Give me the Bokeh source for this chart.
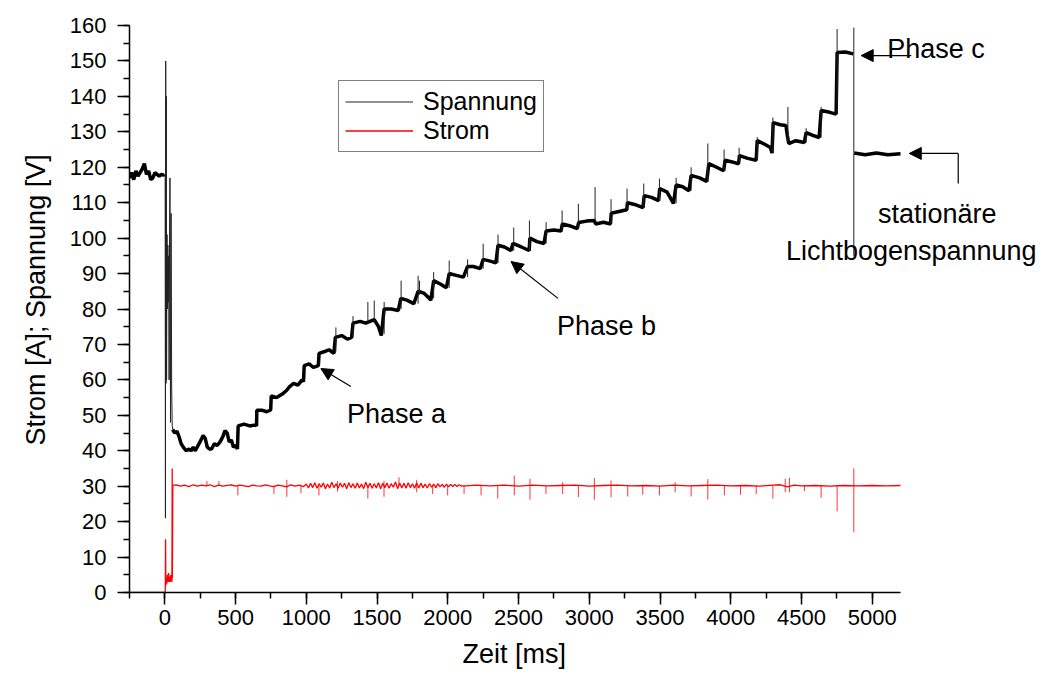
from bokeh.plotting import figure
from bokeh.models import (Range1d, SingleIntervalTicker, Legend, LegendItem, Label,
                          Arrow, NormalHead, Title)
from bokeh.embed import file_html
from bokeh.resources import INLINE

nan = float("nan")
FONT = "Liberation Sans"

# ---------------- data ----------------
x_lo, x_hi = -250, 5200
y_lo, y_hi = 0, 160

# Spannung: noisy band (plateaus), NaN = gap
volt_x = [-250, -235, -220, -205, -190, -175, -160, -145, -130, -115, -100, -85, -70, -55, -40, -25, -10, -3,
          nan,
          55, 70, 85, 100, 115, 130, 150, 170, 185, 200, 215, 235, 255, 270, 285, 300, 315, 330, 350, 370,
          390, 410, 425, 440, 455, 470, 485, 500, 513, 518, 560, 600, 640, 648, 650, 690, 720, 748, 752,
          790, 830, 860, 880, 910, 940, 970, 980, 985, 1020, 1050, 1085, 1090, 1130, 1160, 1195, 1205, 1250,
          1290, 1320, 1330, 1380, 1420, 1480, 1510, 1530, 1550, 1600, 1650, 1668, 1710, 1760, 1790, 1830,
          1870, 1880, 1900, 1950, 1990, 2010, 2060, 2110, 2140, 2180, 2230, 2250, 2300, 2340, 2355, 2400,
          2447, 2460, 2520, 2575, 2580, 2630, 2680, 2695, 2750, 2800, 2810, 2860, 2915, 2925, 2980, 3035,
          3045, 3100, 3150, 3155, 3210, 3265, 3270, 3320, 3380, 3388, 3440, 3490, 3498, 3550, 3595, 3614,
          3660, 3705, 3720, 3780, 3830, 3845, 3900, 3950, 3960, 4010, 4055, 4062, 4120, 4180, 4187, 4240,
          4280, 4292, 4300, 4350, 4390, 4400, 4410, 4460, 4520, 4533, 4580, 4625, 4639, 4700, 4745, 4752,
          4810, 4866,
          nan,
          4873, 4950, 5030, 5110, 5200]
volt_v = [117, 118.5, 116.5, 119, 117.5, 118.5, 119.5, 121, 118, 119, 116.5, 117, 118.5, 118, 117.5, 118, 117.8, 118,
          nan,
          46, 45, 45.5, 44, 42, 41, 40, 40.5, 40, 41, 40, 41.5, 43, 44.3, 43.5, 41, 40.5, 40.5, 42, 41.5,
          42.5, 44, 45.7, 45, 42.5, 43, 41, 41.5, 40.5, 47, 47.5, 47, 47.3, 47, 51.4, 51.4, 51, 51.5, 55.5,
          55, 56, 57, 58, 59, 58.5, 60, 59.5, 64, 64.5, 63.5, 64, 67.5, 68, 68.5, 67.5, 72, 72.5,
          71.5, 72, 76, 76.5, 76, 77, 75, 72.5, 80, 80, 79.6, 83, 82.5, 81.5, 85, 84.5,
          83, 82.5, 88, 87, 86, 90, 89.5, 89, 92, 92, 91.4, 94, 93.5, 93, 98, 97.5,
          96.5, 98.5, 97.5, 96.5, 100, 99, 98.5, 102, 102.3, 102, 104, 103.5, 102.7, 104.4, 104.8, 105,
          104, 104.5, 104, 107, 107.5, 108, 110, 109.5, 108.6, 112, 111.5, 110.6, 114, 113, 109.8, 115,
          114.5, 113.4, 117.7, 117, 116, 121, 120, 119, 122, 121.5, 121, 123.3, 122.5, 122, 127.5, 126.5,
          125.6, 124, 132.6, 132, 131.8, 129, 126.7, 127.5, 127, 129.8, 129, 128.4, 136, 135.5, 135, 152.4,
          152.5, 152,
          nan,
          124, 123.5, 124, 123.5, 123.8]

# Spannung: ignition transient around t = 0 (thin trace)
trans_x = [-3, 2, 4, 6, 8, 10, 12, 15, 18, 21, 24, 27, 30, 33, 36, 40, 44, 48, 52, 56]
trans_v = [118, 118, 21, 150, 59, 140, 60, 101, 80, 98, 82, 95, 60, 100, 117, 48, 107, 58, 47, 46]

# Spannung: thin spikes (time, low, high)
vspk_x = [1209, 1330, 1435, 1480, 1550, 1670, 1790, 1800, 1900, 2010, 2140, 2250, 2355, 2466, 2577,
          2695, 2808, 2923, 3041, 3154, 3267, 3385, 3496, 3614, 3720, 3838, 3953, 4059, 4187, 4298,
          4404, 4533, 4639, 4752, 4870]
vspk_lo = [68, 72, 76, 76, 73, 80, 81.5, 84, 83, 86, 89, 91.4, 93, 96.5, 96.5,
           98.5, 102, 102.7, 105, 104, 108, 108.6, 110.6, 109.8, 113.4, 116, 119, 121, 122, 124,
           127, 127, 128.4, 135, 95]
vspk_hi = [74.8, 78, 82, 82.4, 82, 88, 89.4, 88, 90.4, 93.7, 94, 98.4, 101, 103, 105,
           104.5, 107.8, 109.7, 114.4, 111, 114, 115.4, 116.8, 117, 120, 126.7, 125, 125.5, 128.5, 134,
           137, 131, 137, 159, 159.4]

# Strom: trace
cur_x = [-250, 0, 3, 5, 7, 10, 14, 18, 22, 26, 30, 34, 38, 42, 46, 50, 52, 53, 56,
         80, 110, 140, 170, 200, 230, 260, 290, 320, 350, 380, 410, 440, 470, 500, 530, 560, 590, 620,
         650, 680, 710, 740, 770, 800, 830, 860, 890, 920, 950, 980,
         1000, 1015, 1030, 1045, 1060, 1075, 1090, 1105, 1120, 1135, 1150, 1165, 1180, 1195, 1210, 1225,
         1240, 1255, 1270, 1285, 1300, 1315, 1330, 1345, 1360, 1375, 1390, 1405, 1420, 1435, 1450, 1465,
         1480, 1495, 1510, 1525, 1540, 1555, 1570, 1585, 1600, 1615, 1630, 1645, 1660, 1675, 1690, 1705,
         1720, 1735, 1750, 1765, 1780, 1795, 1810, 1825, 1840, 1855, 1870, 1885, 1900, 1915, 1930, 1945,
         1960, 1975, 1990, 2005, 2020, 2035, 2050, 2065, 2080, 2100,
         2200, 2300, 2400, 2500, 2600, 2700, 2800, 2900, 3000, 3100, 3200, 3300, 3400, 3500, 3600, 3700,
         3800, 3900, 4000, 4100, 4200, 4300, 4350, 4400, 4450, 4500, 4600, 4700, 4800, 4900, 5000, 5100, 5200]
cur_v = [0, 0, 0.5, 15, 2, 4, 2.5, 5, 3, 5.5, 3, 4.5, 3, 5, 4, 3, 35, 4, 30.2,
         30.4, 30.0, 30.3, 29.9, 30.4, 30.0, 30.3, 30.1, 30.4, 29.9, 30.3, 30.0, 30.2, 30.4, 30.0, 30.3,
         30.1, 29.9, 30.3, 30.1, 30.0, 30.4, 30.1, 29.9, 30.3, 30.1, 29.8, 30.4, 30.0, 30.3, 29.9,
         30.6, 29.5, 30.8, 29.6, 31.0, 29.4, 30.7, 29.7, 30.9, 29.3, 30.6, 29.5, 31.1, 29.6, 30.7, 29.4,
         30.9, 29.7, 30.8, 29.3, 31.0, 29.6, 30.7, 29.4, 30.9, 29.5, 30.6, 29.3, 31.1, 29.6, 30.8, 29.4,
         30.7, 29.5, 31.0, 29.3, 30.8, 29.6, 30.9, 29.4, 30.7, 29.7, 31.2, 29.3, 30.9, 29.5, 30.8, 29.4,
         31.0, 29.6, 30.7, 29.4, 30.9, 29.5, 30.8, 29.6, 30.6, 29.5, 30.7, 29.7, 30.6, 29.6, 30.7, 29.8,
         30.5, 29.7, 30.6, 29.8, 30.5, 29.9, 30.5, 29.9, 30.4, 30.0,
         30.3, 30.1, 30.3, 30.0, 30.3, 30.1, 30.2, 30.3, 30.0, 30.2, 30.3, 30.1, 30.2, 30.0, 30.3, 30.1,
         30.2, 30.3, 30.1, 30.2, 30.0, 30.3, 30.4, 29.8, 30.3, 30.1, 30.2, 30.0, 30.2, 30.1, 30.2, 30.1, 30.2]

# Strom: spikes (time, low, high)
cspk_x = [297, 382, 516, 771, 862, 962, 1089, 1220, 1435, 1549, 1655, 1780, 1893, 1999, 2115, 2235,
          2353, 2470, 2581, 2694, 2812, 2923, 3036, 3154, 3272, 3378, 3496, 3607, 3720, 3838, 3955,
          4069, 4180, 4298, 4385, 4415, 4521, 4639, 4752, 4870]
cspk_lo = [30.2, 30.2, 27.4, 27.8, 27.0, 28.0, 27.4, 28.5, 26.5, 27.0, 30.0, 28.3, 27.8, 27.4, 27.8, 27.4,
           26.5, 27.4, 26.2, 27.8, 27.8, 26.9, 26.2, 26.9, 27.1, 27.6, 27.4, 28.3, 27.1, 26.2, 27.4,
           27.6, 27.8, 26.5, 28.3, 28.3, 28.6, 26.7, 22.9, 17.0]
cspk_hi = [31.4, 31.4, 30.2, 30.2, 31.8, 30.2, 30.2, 31.5, 30.2, 31.5, 32.5, 31.8, 30.2, 30.2, 30.2, 30.2,
           30.2, 33.0, 32.1, 30.2, 31.1, 30.2, 32.3, 31.6, 30.2, 30.2, 30.2, 31.1, 30.2, 32.0, 30.2,
           30.2, 30.2, 30.2, 32.1, 32.4, 30.2, 30.2, 30.2, 35.0]

series_names = ["Spannung", "Strom"]
x_title = "Zeit [ms]"
y_title = "Strom [A]; Spannung [V]"

# ---------------- figure ----------------
W, H = 1043, 677
FL, FR, FT, FB = 129, 900, 25, 592   # axis extent on the page
# frame runs to the right page edge so annotations beyond 5200 ms stay visible;
# the x axis itself is bounded to the data range
x_end = x_lo + (x_hi - x_lo) * (W - FL) / (FR - FL)

p = figure(width=W, height=H, output_backend="svg", toolbar_location=None,
           x_range=Range1d(x_lo, x_end), y_range=Range1d(y_lo, y_hi),
           min_border_left=FL, min_border_right=0, min_border_top=FT, min_border_bottom=H - FB)
p.grid.visible = False
p.outline_line_color = None
p.background_fill_color = "white"
p.border_fill_color = "white"

for ax in (p.xaxis[0], p.yaxis[0]):
    ax.axis_line_width = 1.5
    ax.axis_line_color = "black"
    ax.major_tick_line_width = 1.5
    ax.minor_tick_line_width = 1.5
    ax.major_tick_out = 12
    ax.major_tick_in = 0
    ax.minor_tick_out = 6
    ax.minor_tick_in = 0
    ax.major_label_text_font = FONT
    ax.major_label_text_font_size = "22px"
    ax.major_label_text_color = "black"

p.xaxis[0].bounds = (x_lo, x_hi)
p.xaxis[0].ticker = SingleIntervalTicker(interval=500, num_minor_ticks=2)
p.yaxis[0].ticker = SingleIntervalTicker(interval=10, num_minor_ticks=2)
p.xaxis[0].major_label_standoff = 5
p.yaxis[0].major_label_standoff = 11

# axis titles placed as side titles so they sit where the reference has them
p.add_layout(Title(text=x_title, align="left", offset=333, standoff=18,
                   text_font=FONT, text_font_size="27px", text_font_style="normal",
                   text_color="black"), "below")
p.add_layout(Title(text=y_title, align="left", offset=147, standoff=32,
                   text_font=FONT, text_font_size="27px", text_font_style="normal",
                   text_color="black"), "left")

# Strom
r_cur = p.line(cur_x, cur_v, line_color="#ff0000", line_width=1.3)
p.segment(x0=cspk_x, y0=cspk_lo, x1=cspk_x, y1=cspk_hi, line_color="#ff0000", line_width=1, line_alpha=0.8)

# Spannung
p.line(volt_x, volt_v, line_color="black", line_width=3.5)
r_volt = p.line(trans_x, trans_v, line_color="#222222", line_width=1)
p.segment(x0=vspk_x, y0=vspk_lo, x1=vspk_x, y1=vspk_hi, line_color="#222222", line_width=1)

legend = Legend(items=[LegendItem(label=series_names[0], renderers=[r_volt]),
                       LegendItem(label=series_names[1], renderers=[r_cur])],
                location=(209, FB - 152), orientation="vertical",
                label_text_font=FONT, label_text_font_size="25px", label_text_color="black",
                glyph_width=68, glyph_height=25, label_height=25, label_standoff=10,
                spacing=0, padding=6, margin=0,
                border_line_color="black", border_line_width=1.2,
                background_fill_color="white", background_fill_alpha=1)
p.add_layout(legend, "center")

# annotations
def lab(x, y, text, align="left"):
    p.add_layout(Label(x=x, y=y, text=text, text_font=FONT, text_font_size="27px",
                       text_color="black", text_align=align, text_baseline="alphabetic"))

def arr(x0, y0, x1, y1):
    p.add_layout(Arrow(end=NormalHead(size=12, fill_color="black", line_color="black"),
                       x_start=x0, y_start=y0, x_end=x1, y_end=y1,
                       line_color="black", line_width=1.2))

lab(1287, 50.5, "Phase a")
arr(1315, 58.1, 1103, 63.2)
lab(2772, 75.3, "Phase b")
arr(2779, 83.0, 2447, 93.4)
lab(5106, 153.5, "Phase c")
arr(5276, 151.5, 4922, 151.5)
lab(5460, 106.7, "stationäre", "center")
lab(5276, 96.5, "Lichtbogenspannung", "center")
arr(5608, 123.9, 5262, 123.9)
p.segment(x0=[5608], y0=[115.4], x1=[5608], y1=[123.9], line_color="black", line_width=1.2)

open("out.html", "w").write(file_html(p, INLINE))
